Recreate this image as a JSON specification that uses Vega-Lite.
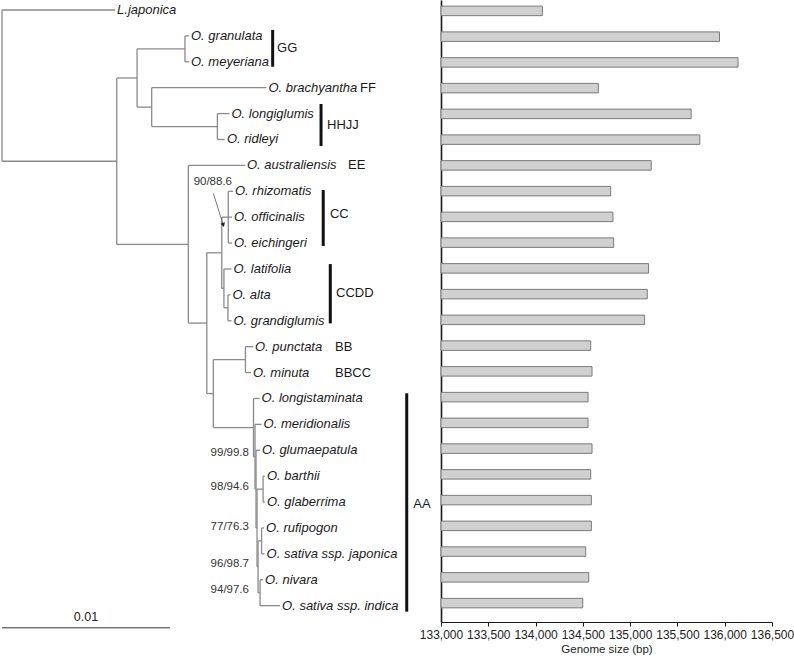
{
  "$schema": "https://vega.github.io/schema/vega-lite/v6.json",
  "padding": 0,
  "spacing": 0,
  "bounds": "flush",
  "config": {"view": {"stroke": null}, "font": "Liberation Sans", "concat": {"spacing": 0}},
  "datasets": {
    "branches": [
      {"x":0,"x2":0,"y":0,"y2":5.84},
      {"x":6.83,"x2":6.83,"y":2.625,"y2":9.05},
      {"x":8.04,"x2":8.04,"y":1.5,"y2":3.75},
      {"x":10.89,"x2":10.89,"y":1,"y2":2},
      {"x":8.91,"x2":8.91,"y":3,"y2":4.5},
      {"x":12.82,"x2":12.82,"y":4,"y2":5},
      {"x":11.09,"x2":11.09,"y":6,"y2":12.09},
      {"x":12.19,"x2":12.19,"y":9.375,"y2":14.81},
      {"x":13.08,"x2":13.08,"y":8,"y2":10.75},
      {"x":13.47,"x2":13.47,"y":7,"y2":9},
      {"x":13.21,"x2":13.21,"y":10,"y2":11.5},
      {"x":13.45,"x2":13.45,"y":11,"y2":12},
      {"x":12.58,"x2":12.58,"y":13.5,"y2":16.125},
      {"x":14.49,"x2":14.49,"y":13,"y2":14},
      {"x":14.97,"x2":14.97,"y":15,"y2":17.25},
      {"x":15.06,"x2":15.06,"y":16,"y2":18.5},
      {"x":15.12,"x2":15.12,"y":17,"y2":20},
      {"x":15.18,"x2":15.18,"y":18.5,"y2":21.5},
      {"x":15.54,"x2":15.54,"y":18,"y2":19},
      {"x":15.24,"x2":15.24,"y":20.5,"y2":22.5},
      {"x":15.45,"x2":15.45,"y":20,"y2":21},
      {"x":15.36,"x2":15.36,"y":22,"y2":23},
      {"x":0,"x2":6.73,"y":0,"y2":0},
      {"x":0,"x2":6.83,"y":5.84,"y2":5.84},
      {"x":6.83,"x2":8.04,"y":2.625,"y2":2.625},
      {"x":6.83,"x2":11.09,"y":9.05,"y2":9.05},
      {"x":8.04,"x2":10.89,"y":1.5,"y2":1.5},
      {"x":8.04,"x2":8.91,"y":3.75,"y2":3.75},
      {"x":10.89,"x2":11.13,"y":1,"y2":1},
      {"x":10.89,"x2":11.13,"y":2,"y2":2},
      {"x":8.91,"x2":15.74,"y":3,"y2":3},
      {"x":8.91,"x2":12.82,"y":4.5,"y2":4.5},
      {"x":12.82,"x2":13.54,"y":4,"y2":4},
      {"x":12.82,"x2":13.27,"y":5,"y2":5},
      {"x":11.09,"x2":14.46,"y":6,"y2":6},
      {"x":11.09,"x2":12.19,"y":12.09,"y2":12.09},
      {"x":12.19,"x2":13.08,"y":9.375,"y2":9.375},
      {"x":12.19,"x2":12.58,"y":14.81,"y2":14.81},
      {"x":13.08,"x2":13.47,"y":8,"y2":8},
      {"x":13.08,"x2":13.21,"y":10.75,"y2":10.75},
      {"x":13.47,"x2":13.75,"y":7,"y2":7},
      {"x":13.47,"x2":13.69,"y":8,"y2":8},
      {"x":13.47,"x2":13.69,"y":9,"y2":9},
      {"x":13.21,"x2":13.66,"y":10,"y2":10},
      {"x":13.21,"x2":13.45,"y":11.5,"y2":11.5},
      {"x":13.45,"x2":13.6,"y":11,"y2":11},
      {"x":13.45,"x2":13.66,"y":12,"y2":12},
      {"x":12.58,"x2":14.49,"y":13.5,"y2":13.5},
      {"x":14.49,"x2":14.94,"y":13,"y2":13},
      {"x":14.49,"x2":14.82,"y":14,"y2":14},
      {"x":12.58,"x2":14.97,"y":16.125,"y2":16.125},
      {"x":14.97,"x2":15.33,"y":15,"y2":15},
      {"x":14.97,"x2":15.06,"y":17.25,"y2":17.25},
      {"x":15.06,"x2":15.45,"y":16,"y2":16},
      {"x":15.06,"x2":15.12,"y":18.5,"y2":18.5},
      {"x":15.12,"x2":15.36,"y":17,"y2":17},
      {"x":15.12,"x2":15.18,"y":20,"y2":20},
      {"x":15.18,"x2":15.54,"y":18.5,"y2":18.5},
      {"x":15.54,"x2":15.65,"y":18,"y2":18},
      {"x":15.54,"x2":15.65,"y":19,"y2":19},
      {"x":15.18,"x2":15.24,"y":21.5,"y2":21.5},
      {"x":15.24,"x2":15.45,"y":20.5,"y2":20.5},
      {"x":15.24,"x2":15.36,"y":22.5,"y2":22.5},
      {"x":15.45,"x2":15.6,"y":20,"y2":20},
      {"x":15.45,"x2":15.63,"y":21,"y2":21},
      {"x":15.36,"x2":15.54,"y":22,"y2":22},
      {"x":15.36,"x2":16.55,"y":23,"y2":23}
    ],
    "leaves": [
      {"name":"L.japonica","x":6.73,"y":0},
      {"name":"O. granulata","x":11.13,"y":1},
      {"name":"O. meyeriana","x":11.13,"y":2},
      {"name":"O. brachyantha","x":15.74,"y":3},
      {"name":"O. longiglumis","x":13.54,"y":4},
      {"name":"O. ridleyi","x":13.27,"y":5},
      {"name":"O. australiensis","x":14.46,"y":6},
      {"name":"O. rhizomatis","x":13.75,"y":7},
      {"name":"O. officinalis","x":13.69,"y":8},
      {"name":"O. eichingeri","x":13.69,"y":9},
      {"name":"O. latifolia","x":13.66,"y":10},
      {"name":"O. alta","x":13.6,"y":11},
      {"name":"O. grandiglumis","x":13.66,"y":12},
      {"name":"O. punctata","x":14.94,"y":13},
      {"name":"O. minuta","x":14.82,"y":14},
      {"name":"O. longistaminata","x":15.33,"y":15},
      {"name":"O. meridionalis","x":15.45,"y":16},
      {"name":"O. glumaepatula","x":15.36,"y":17},
      {"name":"O. barthii","x":15.65,"y":18},
      {"name":"O. glaberrima","x":15.65,"y":19},
      {"name":"O. rufipogon","x":15.6,"y":20},
      {"name":"O. sativa ssp. japonica","x":15.63,"y":21},
      {"name":"O. nivara","x":15.54,"y":22},
      {"name":"O. sativa ssp. indica","x":16.55,"y":23}
    ],
    "groupBars": [
      {"x":16.11,"y":0.77,"y2":2.19},
      {"x":18.99,"y":3.63,"y2":5.25},
      {"x":19.12,"y":6.95,"y2":9.11},
      {"x":19.54,"y":9.81,"y2":12.1},
      {"x":24.09,"y":14.8,"y2":23.23}
    ],
    "groupLabels": [
      {"label":"GG","x":16.37,"y":1.47},
      {"label":"FF","x":21.31,"y":3},
      {"label":"HHJJ","x":19.35,"y":4.45},
      {"label":"EE","x":20.6,"y":6},
      {"label":"CC","x":19.52,"y":7.88},
      {"label":"CCDD","x":19.88,"y":10.94},
      {"label":"BB","x":19.82,"y":13},
      {"label":"BBCC","x":19.82,"y":14},
      {"label":"AA","x":24.48,"y":19.07}
    ],
    "support": [
      {"label":"90/88.6","x":13.69,"y":6.64},
      {"label":"99/99.8","x":14.7,"y":17.09},
      {"label":"98/94.6","x":14.7,"y":18.41},
      {"label":"77/76.3","x":14.7,"y":19.95},
      {"label":"96/98.7","x":14.7,"y":21.39},
      {"label":"94/97.6","x":14.7,"y":22.39}
    ],
    "arrow": [{"x":12.58,"x2":13.17,"y":7.08,"y2":8.3}],
    "scaleBar": [{"x":0,"x2":10,"y":23.85,"label":"0.01","xm":5,"ym":23.42}],
    "genomes": [
      {"species":"L.japonica","i":0,"size":134072},
      {"species":"O. granulata","i":1,"size":135945},
      {"species":"O. meyeriana","i":2,"size":136141},
      {"species":"O. brachyantha","i":3,"size":134664},
      {"species":"O. longiglumis","i":4,"size":135645},
      {"species":"O. ridleyi","i":5,"size":135737},
      {"species":"O. australiensis","i":6,"size":135223},
      {"species":"O. rhizomatis","i":7,"size":134794},
      {"species":"O. officinalis","i":8,"size":134818},
      {"species":"O. eichingeri","i":9,"size":134826},
      {"species":"O. latifolia","i":10,"size":135195},
      {"species":"O. alta","i":11,"size":135181},
      {"species":"O. grandiglumis","i":12,"size":135153},
      {"species":"O. punctata","i":13,"size":134583},
      {"species":"O. minuta","i":14,"size":134597},
      {"species":"O. longistaminata","i":15,"size":134555},
      {"species":"O. meridionalis","i":16,"size":134555},
      {"species":"O. glumaepatula","i":17,"size":134597},
      {"species":"O. barthii","i":18,"size":134583},
      {"species":"O. glaberrima","i":19,"size":134590},
      {"species":"O. rufipogon","i":20,"size":134590},
      {"species":"O. sativa ssp. japonica","i":21,"size":134530},
      {"species":"O. nivara","i":22,"size":134562},
      {"species":"O. sativa ssp. indica","i":23,"size":134499}
    ]
  },
  "hconcat": [
    {
      "width": 441,
      "height": 630,
      "encoding": {
        "x": {"field": "x", "type": "quantitative", "scale": {"domain": [-0.119, 26.13], "nice": false, "zero": false}, "axis": null},
        "y": {"field": "y", "type": "quantitative", "scale": {"domain": [-0.386, 23.94], "nice": false, "zero": false, "reverse": true}, "axis": null}
      },
      "layer": [
        {
          "data": {"name": "branches"},
          "mark": {"type": "rule", "color": "#8a8a8a", "strokeWidth": 1.3},
          "encoding": {"x2": {"field": "x2"}, "y2": {"field": "y2"}}
        },
        {
          "data": {"name": "leaves"},
          "mark": {"type": "text", "align": "left", "baseline": "middle", "dx": 2, "fontStyle": "italic", "fontSize": 13, "color": "#1a1a1a"},
          "encoding": {"text": {"field": "name"}}
        },
        {
          "data": {"name": "groupBars"},
          "mark": {"type": "rule", "color": "#111111", "strokeWidth": 3},
          "encoding": {"y2": {"field": "y2"}}
        },
        {
          "data": {"name": "groupLabels"},
          "mark": {"type": "text", "align": "left", "baseline": "middle", "fontSize": 13, "color": "#1a1a1a"},
          "encoding": {"text": {"field": "label"}}
        },
        {
          "data": {"name": "support"},
          "mark": {"type": "text", "align": "right", "baseline": "middle", "fontSize": 11.5, "color": "#333333"},
          "encoding": {"text": {"field": "label"}}
        },
        {
          "data": {"name": "arrow"},
          "mark": {"type": "rule", "color": "#555555", "strokeWidth": 0.8},
          "encoding": {"x2": {"field": "x2"}, "y2": {"field": "y2"}}
        },
        {
          "data": {"name": "arrow"},
          "mark": {"type": "point", "shape": "triangle-down", "angle": -17.5, "size": 22, "filled": true, "color": "#222222", "opacity": 1},
          "encoding": {"x": {"field": "x2", "type": "quantitative"}, "y": {"field": "y2", "type": "quantitative"}}
        },
        {
          "data": {"name": "scaleBar"},
          "mark": {"type": "rule", "color": "#777777", "strokeWidth": 1.5},
          "encoding": {"x2": {"field": "x2"}}
        },
        {
          "data": {"name": "scaleBar"},
          "mark": {"type": "text", "align": "center", "baseline": "middle", "fontSize": 12.5, "color": "#222222"},
          "encoding": {"x": {"field": "xm", "type": "quantitative"}, "y": {"field": "ym", "type": "quantitative"}, "text": {"field": "label"}}
        }
      ]
    },
    {
      "width": 331,
      "height": 622,
      "data": {"name": "genomes"},
      "mark": {"type": "bar", "orient": "horizontal", "size": 9.5, "fill": "#d0d0d0", "stroke": "#7a7a7a", "strokeWidth": 1},
      "encoding": {
        "y": {"field": "i", "type": "quantitative", "scale": {"domain": [-0.229, 23.54], "nice": false, "zero": false, "reverse": true},
              "axis": {"labels": false, "ticks": false, "title": null, "grid": false, "domainColor": "#1a1a1a", "domainWidth": 1.6}},
        "x": {"field": "size", "type": "quantitative", "scale": {"domain": [133000, 136500], "nice": false, "zero": false},
              "axis": {"values": [133000, 133500, 134000, 134500, 135000, 135500, 136000, 136500], "format": ",d", "grid": false,
                       "title": "Genome size (bp)", "titleFontSize": 11.5, "titleFontWeight": "normal", "titleColor": "#222222", "titlePadding": 3,
                       "labelFontSize": 12, "labelColor": "#222222", "labelPadding": 3, "tickSize": 4, "tickColor": "#1a1a1a",
                       "domainColor": "#1a1a1a", "labelFlush": false, "labelOverlap": false}},
        "x2": {"datum": 133000}
      }
    }
  ]
}
